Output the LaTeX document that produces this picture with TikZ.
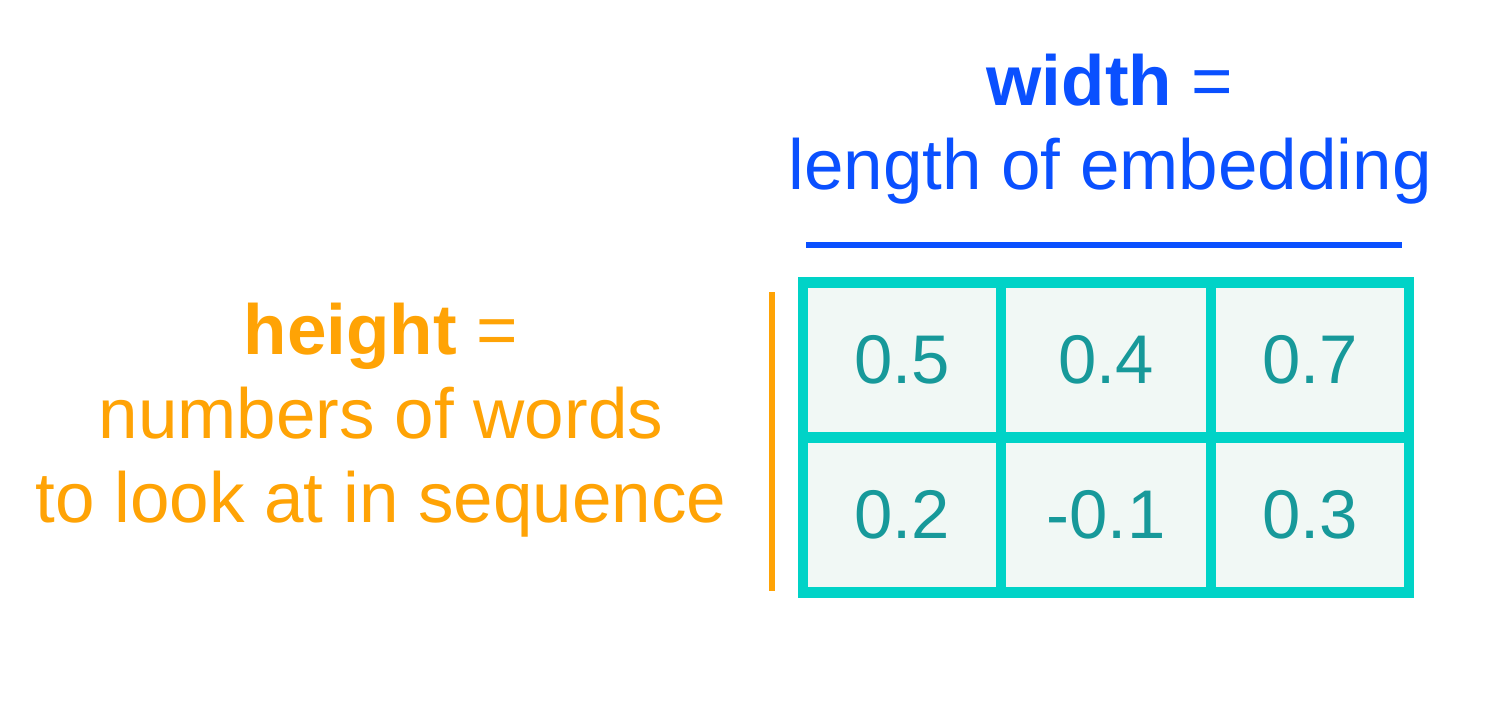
\documentclass[tikz,border=0pt]{standalone}
\usepackage{fontspec}
\setmainfont{Liberation Sans}
\usepackage{tikz}
\usetikzlibrary{positioning}
\definecolor{wblue}{HTML}{0A50FF}
\definecolor{horange}{HTML}{FFA305}
\definecolor{gridline}{HTML}{00D3C7}
\definecolor{cellfill}{HTML}{F1F8F5}
\definecolor{celltext}{HTML}{17999A}

\begin{document}
\begin{tikzpicture}[
    lbl/.style={font=\fontsize{20.2}{24}\selectfont, align=center, inner sep=0pt},
    cell/.style={draw=gridline, line width=3.1pt, fill=cellfill, text=celltext,
                 inner sep=0pt, minimum height=15.5mm, font=\fontsize{19.6}{22}\selectfont},
    bar/.style={line width=1.8pt},
  ]
    \useasboundingbox (0,0) rectangle (14.98,7.12);

    \node[lbl, text=wblue] (wlabel) at (11.10,5.83) {\textbf{width} =\\length of embedding};
    \node[lbl, text=horange] (hlabel) at (3.81,2.92)
      {\textbf{height} =\\numbers of words\\to look at in sequence};

    % the 2x3 embedding matrix
    \foreach \x/\w/\y/\val/\nm in {9.02/1.98/3.52/0.5/c11, 11.06/2.10/3.52/0.4/c12, 13.10/1.98/3.52/0.7/c13,
                                   9.02/1.98/1.97/0.2/c21, 11.06/2.10/1.97/-0.1/c22, 13.10/1.98/1.97/0.3/c23}
      \node[cell, minimum width=\w cm] (\nm) at (\x,\y) {\val};

    \coordinate (wl) at (8.06,4.67);
    \coordinate (wr) at (14.02,4.67);
    \coordinate (ht) at (7.72,4.20);
    \coordinate (hb) at (7.72,1.21);
    \draw[bar, wblue] (wl) -- (wr);
    \draw[bar, horange] (ht) -- (hb);
  \end{tikzpicture}
\end{document}
